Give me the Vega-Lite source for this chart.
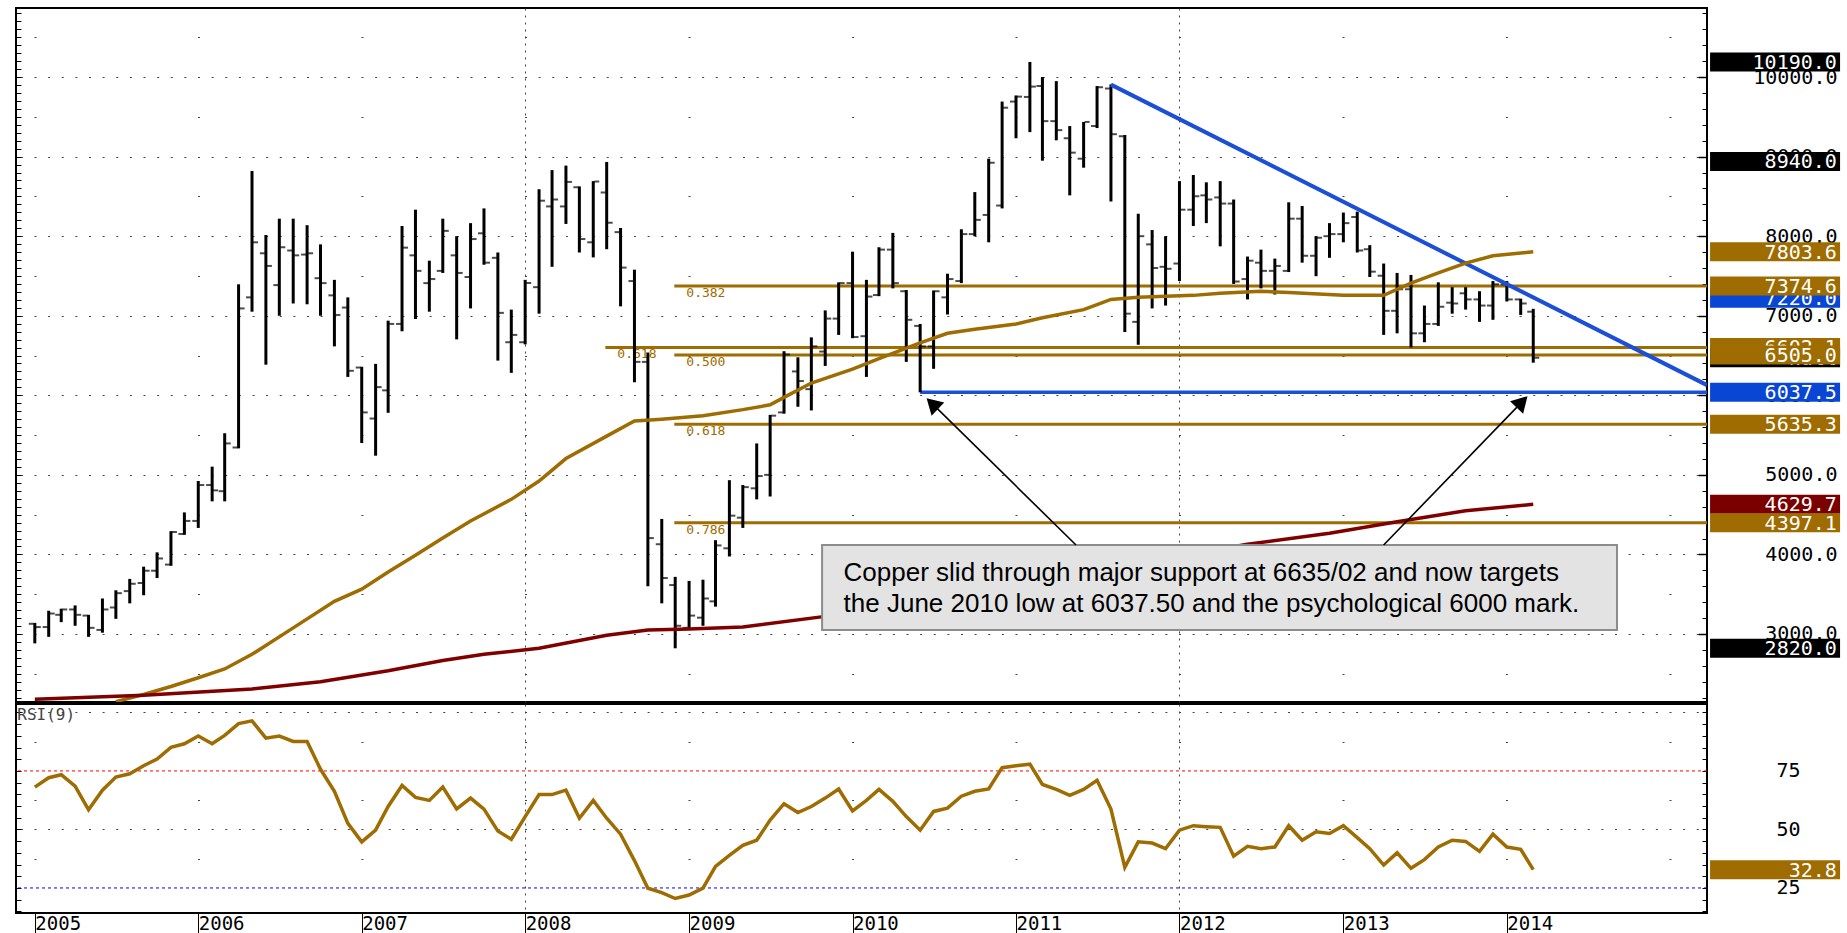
{
"$schema": "https://vega.github.io/schema/vega-lite/v6.json",
"autosize": {"type": "pad"},
"padding": {"left": 14, "top": 7, "right": 5, "bottom": 0},
"background": "white",
"spacing": 0,
"config": {"view": {"stroke": "#000", "strokeWidth": 2}, "axis": {"labelFont": "DejaVu Sans Mono", "labelColor": "#000", "labelOverlap": false, "labelFlush": false}},
"datasets": {
"bars": [
{"date":"2005-01-01","o":3128,"h":3139,"l":2882,"c":3087,"rsi":68.1},
{"date":"2005-02-01","o":3087,"h":3292,"l":2964,"c":3257,"rsi":72.1},
{"date":"2005-03-01","o":3241,"h":3318,"l":3149,"c":3308,"rsi":73.4},
{"date":"2005-04-01","o":3308,"h":3359,"l":3103,"c":3241,"rsi":68.5},
{"date":"2005-05-01","o":3231,"h":3241,"l":2964,"c":3077,"rsi":58.4},
{"date":"2005-06-01","o":3051,"h":3446,"l":3016,"c":3308,"rsi":66.8},
{"date":"2005-07-01","o":3333,"h":3549,"l":3190,"c":3513,"rsi":72.4},
{"date":"2005-08-01","o":3539,"h":3692,"l":3385,"c":3631,"rsi":73.8},
{"date":"2005-09-01","o":3641,"h":3846,"l":3487,"c":3795,"rsi":77.2},
{"date":"2005-10-01","o":3795,"h":4026,"l":3703,"c":3949,"rsi":80.1},
{"date":"2005-11-01","o":3872,"h":4292,"l":3857,"c":4282,"rsi":85.1},
{"date":"2005-12-01","o":4257,"h":4528,"l":4246,"c":4421,"rsi":86.6},
{"date":"2006-01-01","o":4421,"h":4923,"l":4333,"c":4872,"rsi":89.9},
{"date":"2006-02-01","o":4872,"h":5103,"l":4667,"c":4805,"rsi":86.6},
{"date":"2006-03-01","o":4795,"h":5523,"l":4667,"c":5395,"rsi":90.2},
{"date":"2006-04-01","o":5344,"h":7395,"l":5333,"c":7092,"rsi":95.2},
{"date":"2006-05-01","o":7231,"h":8820,"l":7051,"c":7923,"rsi":96.4},
{"date":"2006-06-01","o":7785,"h":8015,"l":6385,"c":7626,"rsi":89.0},
{"date":"2006-07-01","o":7385,"h":8220,"l":7000,"c":7861,"rsi":89.9},
{"date":"2006-08-01","o":7820,"h":8220,"l":7154,"c":7759,"rsi":87.6},
{"date":"2006-09-01","o":7769,"h":8138,"l":7144,"c":7785,"rsi":87.6},
{"date":"2006-10-01","o":7472,"h":7897,"l":7000,"c":7410,"rsi":75.7},
{"date":"2006-11-01","o":7256,"h":7451,"l":6615,"c":7010,"rsi":66.3},
{"date":"2006-12-01","o":7103,"h":7231,"l":6231,"c":6308,"rsi":52.6},
{"date":"2007-01-01","o":6349,"h":6359,"l":5400,"c":5785,"rsi":44.7},
{"date":"2007-02-01","o":5708,"h":6395,"l":5241,"c":6103,"rsi":49.7},
{"date":"2007-03-01","o":6062,"h":6938,"l":5780,"c":6897,"rsi":59.8},
{"date":"2007-04-01","o":6897,"h":8128,"l":6805,"c":7856,"rsi":68.8},
{"date":"2007-05-01","o":7759,"h":8333,"l":6959,"c":7564,"rsi":63.7},
{"date":"2007-06-01","o":7410,"h":7692,"l":7051,"c":7461,"rsi":62.4},
{"date":"2007-07-01","o":7564,"h":8220,"l":7538,"c":8067,"rsi":68.1},
{"date":"2007-08-01","o":7759,"h":8000,"l":6703,"c":7538,"rsi":58.8},
{"date":"2007-09-01","o":7487,"h":8164,"l":7092,"c":7964,"rsi":63.4},
{"date":"2007-10-01","o":8036,"h":8349,"l":7641,"c":7667,"rsi":58.7},
{"date":"2007-11-01","o":7728,"h":7795,"l":6436,"c":7036,"rsi":49.3},
{"date":"2007-12-01","o":6667,"h":7077,"l":6282,"c":6759,"rsi":45.8},
{"date":"2008-01-01","o":6667,"h":7451,"l":6640,"c":7410,"rsi":55.5},
{"date":"2008-02-01","o":7359,"h":8590,"l":7026,"c":8446,"rsi":64.9},
{"date":"2008-03-01","o":8374,"h":8831,"l":7615,"c":8461,"rsi":64.9},
{"date":"2008-04-01","o":8374,"h":8887,"l":8154,"c":8682,"rsi":66.8},
{"date":"2008-05-01","o":8615,"h":8626,"l":7795,"c":7964,"rsi":54.8},
{"date":"2008-06-01","o":7923,"h":8692,"l":7733,"c":8687,"rsi":62.4},
{"date":"2008-07-01","o":8549,"h":8933,"l":7836,"c":8169,"rsi":54.8},
{"date":"2008-08-01","o":8051,"h":8103,"l":7118,"c":7605,"rsi":48.0},
{"date":"2008-09-01","o":7436,"h":7579,"l":6164,"c":6420,"rsi":36.7},
{"date":"2008-10-01","o":6420,"h":6538,"l":3600,"c":4205,"rsi":24.9},
{"date":"2008-11-01","o":4128,"h":4446,"l":3385,"c":3703,"rsi":23.0},
{"date":"2008-12-01","o":3615,"h":3718,"l":2820,"c":3103,"rsi":20.5},
{"date":"2009-01-01","o":3077,"h":3667,"l":3051,"c":3231,"rsi":22.0},
{"date":"2009-02-01","o":3205,"h":3682,"l":3103,"c":3446,"rsi":24.9},
{"date":"2009-03-01","o":3410,"h":4179,"l":3344,"c":4113,"rsi":34.2},
{"date":"2009-04-01","o":4077,"h":4933,"l":3974,"c":4487,"rsi":38.9},
{"date":"2009-05-01","o":4462,"h":4872,"l":4333,"c":4846,"rsi":43.2},
{"date":"2009-06-01","o":4831,"h":5395,"l":4692,"c":4985,"rsi":45.4},
{"date":"2009-07-01","o":5000,"h":5754,"l":4728,"c":5744,"rsi":54.0},
{"date":"2009-08-01","o":5785,"h":6554,"l":5769,"c":6513,"rsi":61.0},
{"date":"2009-09-01","o":6300,"h":6477,"l":5856,"c":6179,"rsi":57.2},
{"date":"2009-10-01","o":6077,"h":6728,"l":5810,"c":6615,"rsi":59.8},
{"date":"2009-11-01","o":6550,"h":7067,"l":6369,"c":6964,"rsi":63.4},
{"date":"2009-12-01","o":6964,"h":7420,"l":6759,"c":7410,"rsi":67.3},
{"date":"2010-01-01","o":7410,"h":7805,"l":6718,"c":6733,"rsi":57.9},
{"date":"2010-02-01","o":6743,"h":7451,"l":6231,"c":7241,"rsi":62.4},
{"date":"2010-03-01","o":7260,"h":7861,"l":7246,"c":7831,"rsi":67.1},
{"date":"2010-04-01","o":7831,"h":8041,"l":7344,"c":7410,"rsi":62.0},
{"date":"2010-05-01","o":7308,"h":7323,"l":6420,"c":6949,"rsi":55.5},
{"date":"2010-06-01","o":6872,"h":6897,"l":6037.5,"c":6615,"rsi":49.7},
{"date":"2010-07-01","o":6615,"h":7318,"l":6333,"c":7308,"rsi":57.7},
{"date":"2010-08-01","o":7231,"h":7528,"l":7015,"c":7461,"rsi":59.1},
{"date":"2010-09-01","o":7436,"h":8087,"l":7410,"c":8026,"rsi":64.2},
{"date":"2010-10-01","o":8026,"h":8554,"l":8000,"c":8205,"rsi":66.3},
{"date":"2010-11-01","o":8267,"h":8974,"l":7923,"c":8923,"rsi":67.3},
{"date":"2010-12-01","o":8385,"h":9692,"l":8349,"c":9615,"rsi":76.4},
{"date":"2011-01-01","o":9692,"h":9769,"l":9231,"c":9754,"rsi":77.2},
{"date":"2011-02-01","o":9750,"h":10190,"l":9308,"c":9880,"rsi":77.9},
{"date":"2011-03-01","o":9887,"h":10000,"l":8949,"c":9446,"rsi":69.2},
{"date":"2011-04-01","o":9446,"h":9949,"l":9205,"c":9333,"rsi":67.1},
{"date":"2011-05-01","o":9231,"h":9384,"l":8513,"c":9050,"rsi":64.6},
{"date":"2011-06-01","o":8974,"h":9436,"l":8861,"c":9436,"rsi":67.1},
{"date":"2011-07-01","o":9385,"h":9887,"l":9359,"c":9872,"rsi":71.0},
{"date":"2011-08-01","o":9856,"h":9908,"l":8436,"c":9282,"rsi":58.7},
{"date":"2011-09-01","o":9256,"h":9272,"l":6795,"c":7026,"rsi":33.8},
{"date":"2011-10-01","o":6923,"h":8282,"l":6635,"c":8000,"rsi":44.7},
{"date":"2011-11-01","o":7897,"h":8077,"l":7092,"c":7600,"rsi":44.2},
{"date":"2011-12-01","o":7615,"h":8000,"l":7128,"c":7590,"rsi":41.8},
{"date":"2012-01-01","o":7656,"h":8692,"l":7436,"c":8333,"rsi":49.7},
{"date":"2012-02-01","o":8333,"h":8769,"l":8128,"c":8502,"rsi":51.6},
{"date":"2012-03-01","o":8513,"h":8677,"l":8164,"c":8461,"rsi":51.2},
{"date":"2012-04-01","o":8487,"h":8692,"l":7872,"c":8410,"rsi":50.9},
{"date":"2012-05-01","o":8410,"h":8461,"l":7400,"c":7430,"rsi":38.6},
{"date":"2012-06-01","o":7461,"h":7744,"l":7205,"c":7692,"rsi":42.8},
{"date":"2012-07-01","o":7667,"h":7831,"l":7344,"c":7564,"rsi":41.8},
{"date":"2012-08-01","o":7564,"h":7718,"l":7267,"c":7626,"rsi":42.5},
{"date":"2012-09-01","o":7564,"h":8426,"l":7549,"c":8220,"rsi":51.6},
{"date":"2012-10-01","o":8220,"h":8379,"l":7667,"c":7754,"rsi":45.4},
{"date":"2012-11-01","o":7754,"h":8000,"l":7497,"c":7980,"rsi":49.0},
{"date":"2012-12-01","o":8000,"h":8164,"l":7728,"c":8026,"rsi":48.3},
{"date":"2013-01-01","o":8026,"h":8297,"l":7923,"c":8164,"rsi":51.6},
{"date":"2013-02-01","o":8241,"h":8308,"l":7795,"c":7820,"rsi":46.5},
{"date":"2013-03-01","o":7836,"h":7887,"l":7487,"c":7554,"rsi":41.8},
{"date":"2013-04-01","o":7503,"h":7656,"l":6759,"c":7062,"rsi":34.8},
{"date":"2013-05-01","o":7062,"h":7538,"l":6779,"c":7333,"rsi":40.0},
{"date":"2013-06-01","o":7333,"h":7513,"l":6602.1,"c":6779,"rsi":33.4},
{"date":"2013-07-01","o":6779,"h":7128,"l":6667,"c":6897,"rsi":37.1},
{"date":"2013-08-01","o":6897,"h":7420,"l":6872,"c":7113,"rsi":42.5},
{"date":"2013-09-01","o":7164,"h":7359,"l":7026,"c":7154,"rsi":45.4},
{"date":"2013-10-01","o":7282,"h":7359,"l":7077,"c":7205,"rsi":44.9},
{"date":"2013-11-01","o":7205,"h":7308,"l":6923,"c":7128,"rsi":40.6},
{"date":"2013-12-01","o":7128,"h":7436,"l":6949,"c":7395,"rsi":48.0},
{"date":"2014-01-01","o":7395,"h":7436,"l":7179,"c":7205,"rsi":42.5},
{"date":"2014-02-01","o":7205,"h":7215,"l":7010,"c":7154,"rsi":41.5},
{"date":"2014-03-01","o":7051,"h":7087,"l":6410,"c":6472,"rsi":32.8}
],
"ma1": [
{"date":"2005-07-01","v":2150},{"date":"2005-09-01","v":2240},{"date":"2005-11-01","v":2340},{"date":"2006-01-01","v":2450},{"date":"2006-03-01","v":2560},{"date":"2006-05-01","v":2744},{"date":"2006-08-01","v":3077},{"date":"2006-11-01","v":3410},{"date":"2007-01-01","v":3564},{"date":"2007-03-01","v":3780},{"date":"2007-05-01","v":3990},{"date":"2007-07-01","v":4205},{"date":"2007-09-01","v":4420},{"date":"2007-12-01","v":4692},{"date":"2008-02-01","v":4923},{"date":"2008-04-01","v":5205},{"date":"2008-07-01","v":5487},{"date":"2008-09-01","v":5677},{"date":"2008-11-01","v":5700},{"date":"2009-02-01","v":5744},{"date":"2009-05-01","v":5820},{"date":"2009-07-01","v":5880},{"date":"2009-08-01","v":5974},{"date":"2009-10-01","v":6154},{"date":"2010-01-01","v":6330},{"date":"2010-03-01","v":6461},{"date":"2010-06-01","v":6660},{"date":"2010-08-01","v":6779},{"date":"2010-10-01","v":6831},{"date":"2011-01-01","v":6897},{"date":"2011-03-01","v":6974},{"date":"2011-06-01","v":7077},{"date":"2011-07-01","v":7140},{"date":"2011-08-01","v":7205},{"date":"2011-10-01","v":7231},{"date":"2012-02-01","v":7256},{"date":"2012-04-01","v":7282},{"date":"2012-07-01","v":7308},{"date":"2012-09-01","v":7292},{"date":"2013-01-01","v":7256},{"date":"2013-04-01","v":7256},{"date":"2013-06-01","v":7410},{"date":"2013-08-01","v":7538},{"date":"2013-10-01","v":7661},{"date":"2013-12-01","v":7754},{"date":"2014-03-01","v":7803.6}
],
"ma2": [
{"date":"2005-01-01","v":2180},{"date":"2005-09-01","v":2231},{"date":"2006-05-01","v":2308},{"date":"2006-10-01","v":2400},{"date":"2007-03-01","v":2539},{"date":"2007-07-01","v":2667},{"date":"2007-10-01","v":2744},{"date":"2008-02-01","v":2821},{"date":"2008-07-01","v":2985},{"date":"2008-10-01","v":3051},{"date":"2009-01-01","v":3061},{"date":"2009-05-01","v":3087},{"date":"2009-11-01","v":3221},{"date":"2012-06-01","v":4128},{"date":"2012-12-01","v":4267},{"date":"2013-05-01","v":4410},{"date":"2013-10-01","v":4549},{"date":"2014-03-01","v":4629.7}
],
"fibs": [
{"level":7374.6,"start":"2008-11-29","ratio":"0.382"},
{"level":6602.1,"start":"2008-06-28","ratio":"0.618"},
{"level":6505.0,"start":"2008-11-29","ratio":"0.500"},
{"level":5635.3,"start":"2008-11-29","ratio":"0.618"},
{"level":4397.1,"start":"2008-11-29","ratio":"0.786"}
],
"support": [{"start":"2010-06-01","level":6037.5}],
"trend": [{"date":"2011-08-01","v":9905},{"date":"2015-03-24","v":6128}],
"arrows": [
{"from":"2011-05-15","fromV":4118,"to":"2010-06-28","toV":5895},
{"from":"2013-04-01","fromV":4118,"to":"2014-02-04","toV":5918}
],
"tags": [
{"value":10190,"label":"10190.0","kind":"extreme"},
{"value":8940,"label":"8940.0","kind":"extreme"},
{"value":7803.6,"label":"7803.6","kind":"ma1"},
{"value":7220,"label":"7220.0","kind":"trend"},
{"value":6602.1,"label":"6602.1","kind":"fib"},
{"value":6472,"label":null,"kind":"extreme"},
{"value":6037.5,"label":"6037.5","kind":"trend"},
{"value":5635.3,"label":"5635.3","kind":"fib"},
{"value":4629.7,"label":"4629.7","kind":"ma2"},
{"value":2820,"label":"2820.0","kind":"extreme"},
{"value":7374.6,"label":"7374.6","kind":"fib"},
{"value":6505,"label":"6505.0","kind":"fib"},
{"value":4397.1,"label":"4397.1","kind":"fib"}
],
"rsitag": [{"value":32.8,"label":"32.8","kind":"ma1"}]
},
"vconcat": [
{
"width": 1691, "height": 694,
"resolve": {"axis": {"x": "independent", "y": "independent"}},
"layer": [
{"data": {"name": "fibs"}, "mark": {"type": "rule", "color": "#9e6c00", "strokeWidth": 3},
 "encoding": {
  "x": {"field": "start", "type": "temporal", "scale": {"type": "utc", "domain": [{"year":2004,"month":11,"date":20,"utc":true},{"year":2015,"month":3,"date":24,"utc":true}]}, "axis": null},
  "x2": {"datum": {"year":2015,"month":3,"date":24,"utc":true}},
  "y": {"field": "level", "type": "quantitative", "scale": {"domain": [2145, 10868], "nice": false, "zero": false}, "axis": null}}},
{"data": {"name": "fibs"}, "mark": {"type": "text", "color": "#9e6c00", "font": "DejaVu Sans Mono", "fontSize": 13, "align": "left", "baseline": "top", "dx": 12, "dy": 1},
 "encoding": {
  "x": {"field": "start", "type": "temporal", "scale": {"type": "utc", "domain": [{"year":2004,"month":11,"date":20,"utc":true},{"year":2015,"month":3,"date":24,"utc":true}]}, "axis": null},
  "y": {"field": "level", "type": "quantitative", "scale": {"domain": [2145, 10868], "nice": false, "zero": false}, "axis": null},
  "text": {"field": "ratio"}}},
{"data": {"name": "support"}, "mark": {"type": "rule", "color": "#1a4fd6", "strokeWidth": 3.5},
 "encoding": {
  "x": {"field": "start", "type": "temporal", "scale": {"type": "utc", "domain": [{"year":2004,"month":11,"date":20,"utc":true},{"year":2015,"month":3,"date":24,"utc":true}]}, "axis": null},
  "x2": {"datum": {"year":2015,"month":3,"date":24,"utc":true}},
  "y": {"field": "level", "type": "quantitative", "scale": {"domain": [2145, 10868], "nice": false, "zero": false}, "axis": null}}},
{"data": {"name": "bars"}, "mark": {"type": "rule", "color": "#000", "strokeWidth": 3},
 "encoding": {
  "x": {"field": "date", "type": "temporal", "scale": {"type": "utc", "domain": [{"year":2004,"month":11,"date":20,"utc":true},{"year":2015,"month":3,"date":24,"utc":true}]},
        "axis": {"orient": "bottom", "title": null, "values": [{"year":2008,"utc":true},{"year":2012,"utc":true}], "grid": true, "gridDash": [2, 5], "gridColor": "#444", "gridOpacity": 1, "gridWidth": 1, "labels": false, "ticks": false, "domain": false}},
  "y": {"field": "h", "type": "quantitative", "scale": {"domain": [2145, 10868], "nice": false, "zero": false},
        "axis": {"orient": "left", "title": null, "values": [3000,4000,5000,6000,7000,8000,9000,10000], "grid": true, "gridDash": [2, 11.625], "gridDashOffset": 9.25, "gridColor": "#444", "gridOpacity": 1, "gridWidth": 1.2, "labels": false, "ticks": false, "domain": false}},
  "y2": {"field": "l"}}},
{"data": {"name": "bars"}, "mark": {"type": "tick", "orient": "horizontal", "color": "#000", "size": 5, "thickness": 2, "xOffset": -3.5},
 "encoding": {
  "x": {"field": "date", "type": "temporal", "scale": {"type": "utc", "domain": [{"year":2004,"month":11,"date":20,"utc":true},{"year":2015,"month":3,"date":24,"utc":true}]}, "axis": null},
  "y": {"field": "o", "type": "quantitative", "scale": {"domain": [2145, 10868], "nice": false, "zero": false},
        "axis": {"orient": "left", "title": null, "values": [2500,3500,4500,5500,6500,7500,8500,9500,10500], "grid": true, "gridDash": [2, 161.5], "gridDashOffset": 145.5, "gridColor": "#444", "gridOpacity": 1, "gridWidth": 1.2, "labels": false, "ticks": false, "domain": false}}}},
{"data": {"name": "bars"}, "mark": {"type": "tick", "orient": "horizontal", "color": "#000", "size": 5, "thickness": 2, "xOffset": 3.5},
 "encoding": {
  "x": {"field": "date", "type": "temporal", "scale": {"type": "utc", "domain": [{"year":2004,"month":11,"date":20,"utc":true},{"year":2015,"month":3,"date":24,"utc":true}]}, "axis": null},
  "y": {"field": "c", "type": "quantitative", "scale": {"domain": [2145, 10868], "nice": false, "zero": false},
        "axis": {"orient": "right", "title": null, "values": [3000,4000,5000,6000,7000,8000,9000,10000], "format": ".1f", "labelAlign": "right", "labelBaseline": "middle", "labelPadding": 130, "labelFontSize": 20, "tickSize": 0, "ticks": false, "domain": false, "grid": false}}}},
{"data": {"name": "trend"}, "mark": {"type": "line", "color": "#1a4fd6", "strokeWidth": 4, "clip": true},
 "encoding": {
  "x": {"field": "date", "type": "temporal", "scale": {"type": "utc", "domain": [{"year":2004,"month":11,"date":20,"utc":true},{"year":2015,"month":3,"date":24,"utc":true}]}, "axis": null},
  "y": {"field": "v", "type": "quantitative", "scale": {"domain": [2145, 10868], "nice": false, "zero": false}, "axis": null}}},
{"data": {"name": "ma1"}, "mark": {"type": "line", "color": "#9e6c00", "strokeWidth": 3.5, "clip": true},
 "encoding": {
  "x": {"field": "date", "type": "temporal", "scale": {"type": "utc", "domain": [{"year":2004,"month":11,"date":20,"utc":true},{"year":2015,"month":3,"date":24,"utc":true}]}, "axis": null},
  "y": {"field": "v", "type": "quantitative", "scale": {"domain": [2145, 10868], "nice": false, "zero": false},
        "axis": {"orient": "right", "title": null, "offset": -5, "values": [2200,2400,2600,2800,3200,3400,3600,3800,4200,4400,4600,4800,5200,5400,5600,5800,6200,6400,6600,6800,7200,7400,7600,7800,8200,8400,8600,8800,9200,9400,9600,9800,10200,10400,10600,10800], "ticks": true, "tickSize": 5, "tickColor": "#000", "tickWidth": 1, "labels": false, "domain": false, "grid": false}}}},
{"data": {"name": "ma2"}, "mark": {"type": "line", "color": "#800000", "strokeWidth": 3.5, "clip": true},
 "encoding": {
  "x": {"field": "date", "type": "temporal", "scale": {"type": "utc", "domain": [{"year":2004,"month":11,"date":20,"utc":true},{"year":2015,"month":3,"date":24,"utc":true}]}, "axis": null},
  "y": {"field": "v", "type": "quantitative", "scale": {"domain": [2145, 10868], "nice": false, "zero": false},
        "axis": {"orient": "right", "title": null, "offset": -9, "values": [3000,4000,5000,6000,7000,8000,9000,10000], "ticks": true, "tickSize": 9, "tickColor": "#000", "tickWidth": 1.5, "labels": false, "domain": false, "grid": false}}}},
{"data": {"values": [{}]}, "mark": {"type": "rect", "fill": "#e3e3e3", "stroke": "#8c8c8c", "strokeWidth": 2},
 "encoding": {
  "x": {"datum": {"year":2009,"month":10,"date":25,"utc":true}, "type": "temporal", "scale": {"type": "utc", "domain": [{"year":2004,"month":11,"date":20,"utc":true},{"year":2015,"month":3,"date":24,"utc":true}]}, "axis": null},
  "x2": {"datum": {"year":2014,"month":9,"date":4,"utc":true}},
  "y": {"datum": 4118, "type": "quantitative", "scale": {"domain": [2145, 10868], "nice": false, "zero": false},
        "axis": {"orient": "left", "title": null, "offset": -5, "values": [2200,2300,2400,2500,2600,2700,2800,2900,3000,3100,3200,3300,3400,3500,3600,3700,3800,3900,4000,4100,4200,4300,4400,4500,4600,4700,4800,4900,5000,5100,5200,5300,5400,5500,5600,5700,5800,5900,6000,6100,6200,6300,6400,6500,6600,6700,6800,6900,7000,7100,7200,7300,7400,7500,7600,7700,7800,7900,8000,8100,8200,8300,8400,8500,8600,8700,8800,8900,9000,9100,9200,9300,9400,9500,9600,9700,9800,9900,10000,10100,10200,10300,10400,10500,10600,10700,10800], "ticks": true, "tickSize": 5, "tickColor": "#000", "tickWidth": 1, "labels": false, "domain": false, "grid": false}},
  "y2": {"datum": 3050}}},
{"data": {"values": [{}]}, "mark": {"type": "text", "text": ["Copper slid through major support at 6635/02 and now targets", "the June 2010 low at 6037.50 and the psychological 6000 mark."], "font": "Liberation Sans", "fontSize": 26, "lineHeight": 31.5, "align": "left", "baseline": "alphabetic", "color": "#000"},
 "encoding": {
  "x": {"datum": {"year":2009,"month":12,"date":12,"utc":true}, "type": "temporal", "scale": {"type": "utc", "domain": [{"year":2004,"month":11,"date":20,"utc":true},{"year":2015,"month":3,"date":24,"utc":true}]}, "axis": null},
  "y": {"datum": 3666, "type": "quantitative", "scale": {"domain": [2145, 10868], "nice": false, "zero": false}, "axis": null}}},
{"data": {"name": "arrows"}, "mark": {"type": "rule", "color": "#000", "strokeWidth": 1.6},
 "encoding": {
  "x": {"field": "from", "type": "temporal", "scale": {"type": "utc", "domain": [{"year":2004,"month":11,"date":20,"utc":true},{"year":2015,"month":3,"date":24,"utc":true}]}, "axis": null},
  "x2": {"field": "to"},
  "y": {"field": "fromV", "type": "quantitative", "scale": {"domain": [2145, 10868], "nice": false, "zero": false}, "axis": null},
  "y2": {"field": "toV"}}},
{"data": {"values": [{}]}, "mark": {"type": "point", "shape": "triangle-up", "filled": true, "color": "#000", "opacity": 1, "size": 330, "angle": 314},
 "encoding": {
  "x": {"datum": {"year":2010,"month":6,"date":28,"utc":true}, "type": "temporal", "scale": {"type": "utc", "domain": [{"year":2004,"month":11,"date":20,"utc":true},{"year":2015,"month":3,"date":24,"utc":true}]}, "axis": null},
  "y": {"datum": 5895, "type": "quantitative", "scale": {"domain": [2145, 10868], "nice": false, "zero": false}, "axis": null}}},
{"data": {"values": [{}]}, "mark": {"type": "point", "shape": "triangle-up", "filled": true, "color": "#000", "opacity": 1, "size": 330, "angle": 44},
 "encoding": {
  "x": {"datum": {"year":2014,"month":2,"date":4,"utc":true}, "type": "temporal", "scale": {"type": "utc", "domain": [{"year":2004,"month":11,"date":20,"utc":true},{"year":2015,"month":3,"date":24,"utc":true}]}, "axis": null},
  "y": {"datum": 5918, "type": "quantitative", "scale": {"domain": [2145, 10868], "nice": false, "zero": false}, "axis": null}}},
{"data": {"name": "tags"}, "transform": [{"filter": {"not": {"field": "value", "oneOf": [7374.6, 6505, 4397.1]}}}],
 "mark": {"type": "tick", "orient": "horizontal", "size": 130, "thickness": 19, "opacity": 1},
 "encoding": {
  "x": {"datum": {"year":2015,"month":8,"date":23,"utc":true}, "type": "temporal", "scale": {"type": "utc", "domain": [{"year":2004,"month":11,"date":20,"utc":true},{"year":2015,"month":3,"date":24,"utc":true}]}, "axis": null},
  "y": {"field": "value", "type": "quantitative", "scale": {"domain": [2145, 10868], "nice": false, "zero": false}, "axis": null},
  "color": {"field": "kind", "type": "nominal", "scale": {"domain": ["extreme","fib","ma1","trend","ma2"], "range": ["#000000","#9e6c00","#9e6c00","#0a46d4","#7a0000"]}, "legend": null}}},
{"data": {"name": "tags"}, "transform": [{"filter": {"not": {"field": "value", "oneOf": [7374.6, 6505, 4397.1]}}}],
 "mark": {"type": "text", "color": "#fff", "font": "DejaVu Sans Mono", "fontSize": 20, "align": "right", "baseline": "middle", "dy": 1},
 "encoding": {
  "x": {"datum": {"year":2016,"month":1,"date":8,"utc":true}, "type": "temporal", "scale": {"type": "utc", "domain": [{"year":2004,"month":11,"date":20,"utc":true},{"year":2015,"month":3,"date":24,"utc":true}]}, "axis": null},
  "y": {"field": "value", "type": "quantitative", "scale": {"domain": [2145, 10868], "nice": false, "zero": false}, "axis": null},
  "text": {"field": "label"}}},
{"data": {"name": "tags"}, "transform": [{"filter": {"field": "value", "oneOf": [7374.6, 6505, 4397.1]}}],
 "mark": {"type": "tick", "orient": "horizontal", "size": 130, "thickness": 19, "opacity": 1},
 "encoding": {
  "x": {"datum": {"year":2015,"month":8,"date":23,"utc":true}, "type": "temporal", "scale": {"type": "utc", "domain": [{"year":2004,"month":11,"date":20,"utc":true},{"year":2015,"month":3,"date":24,"utc":true}]}, "axis": null},
  "y": {"field": "value", "type": "quantitative", "scale": {"domain": [2145, 10868], "nice": false, "zero": false}, "axis": null},
  "color": {"field": "kind", "type": "nominal", "scale": {"domain": ["extreme","fib","ma1","trend","ma2"], "range": ["#000000","#9e6c00","#9e6c00","#0a46d4","#7a0000"]}, "legend": null}}},
{"data": {"name": "tags"}, "transform": [{"filter": {"field": "value", "oneOf": [7374.6, 6505, 4397.1]}}],
 "mark": {"type": "text", "color": "#fff", "font": "DejaVu Sans Mono", "fontSize": 20, "align": "right", "baseline": "middle", "dy": 1},
 "encoding": {
  "x": {"datum": {"year":2016,"month":1,"date":8,"utc":true}, "type": "temporal", "scale": {"type": "utc", "domain": [{"year":2004,"month":11,"date":20,"utc":true},{"year":2015,"month":3,"date":24,"utc":true}]}, "axis": null},
  "y": {"field": "value", "type": "quantitative", "scale": {"domain": [2145, 10868], "nice": false, "zero": false}, "axis": null},
  "text": {"field": "label"}}}
]
},
{
"width": 1691, "height": 209,
"resolve": {"axis": {"x": "independent", "y": "independent"}},
"layer": [
{"data": {"values": [{}]}, "mark": {"type": "rule", "color": "#ff0000", "strokeWidth": 1, "strokeDash": [3, 3]},
 "encoding": {
  "y": {"datum": 75, "type": "quantitative", "scale": {"domain": [14.3, 103.6], "nice": false, "zero": false},
        "axis": {"orient": "left", "title": null, "values": [37.5, 62.5, 87.5], "grid": true, "gridDash": [2, 161.5], "gridDashOffset": 145.5, "gridColor": "#444", "gridOpacity": 1, "gridWidth": 1.2, "labels": false, "ticks": false, "domain": false}}}},
{"data": {"values": [{}]}, "mark": {"type": "rule", "color": "#0000ff", "strokeWidth": 1, "strokeDash": [3, 3]},
 "encoding": {
  "y": {"datum": 25, "type": "quantitative", "scale": {"domain": [14.3, 103.6], "nice": false, "zero": false},
        "axis": {"orient": "right", "title": null, "values": [25, 50, 75], "format": "d", "labelAlign": "right", "labelBaseline": "middle", "labelPadding": 93, "labelFontSize": 20, "tickSize": 0, "ticks": false, "domain": false, "grid": false}}}},
{"data": {"name": "bars"}, "mark": {"type": "line", "color": "#9e6c00", "strokeWidth": 3.5},
 "encoding": {
  "x": {"field": "date", "type": "temporal", "scale": {"type": "utc", "domain": [{"year":2004,"month":11,"date":20,"utc":true},{"year":2015,"month":3,"date":24,"utc":true}]},
        "axis": {"orient": "bottom", "title": null, "values": [{"year":2005,"utc":true},{"year":2006,"utc":true},{"year":2007,"utc":true},{"year":2008,"utc":true},{"year":2009,"utc":true},{"year":2010,"utc":true},{"year":2011,"utc":true},{"year":2012,"utc":true},{"year":2013,"utc":true},{"year":2014,"utc":true}], "format": "%Y", "labelAlign": "left", "labelBaseline": "top", "labelPadding": -21, "labelDx": 3, "labelFontSize": 19, "ticks": true, "tickSize": 22, "tickColor": "#000", "tickWidth": 1, "domain": false, "grid": false}},
  "y": {"field": "rsi", "type": "quantitative", "scale": {"domain": [14.3, 103.6], "nice": false, "zero": false},
        "axis": {"orient": "left", "title": null, "values": [50, 100], "grid": true, "gridDash": [2, 11.625], "gridDashOffset": 9.25, "gridColor": "#444", "gridOpacity": 1, "gridWidth": 1.2, "labels": false, "ticks": false, "domain": false}}}},
{"data": {"name": "rsitag"}, "mark": {"type": "tick", "orient": "horizontal", "size": 130, "thickness": 19, "opacity": 1, "color": "#9e6c00"},
 "encoding": {
  "x": {"datum": {"year":2015,"month":8,"date":23,"utc":true}, "type": "temporal", "scale": {"type": "utc", "domain": [{"year":2004,"month":11,"date":20,"utc":true},{"year":2015,"month":3,"date":24,"utc":true}]},
        "axis": {"orient": "bottom", "title": null, "values": [{"year":2008,"utc":true},{"year":2012,"utc":true}], "grid": true, "gridDash": [2, 5], "gridColor": "#444", "gridOpacity": 1, "gridWidth": 1, "labels": false, "ticks": false, "domain": false}},
  "y": {"field": "value", "type": "quantitative", "scale": {"domain": [14.3, 103.6], "nice": false, "zero": false},
        "axis": {"orient": "right", "title": null, "offset": -5, "values": [15,20,25,30,35,40,45,50,55,60,65,70,75,80,85,90,95,100], "ticks": true, "tickSize": 5, "tickColor": "#000", "tickWidth": 1, "labels": false, "domain": false, "grid": false}}}},
{"data": {"name": "rsitag"}, "mark": {"type": "text", "color": "#fff", "font": "DejaVu Sans Mono", "fontSize": 20, "align": "right", "baseline": "middle", "dy": 1},
 "encoding": {
  "x": {"datum": {"year":2016,"month":1,"date":8,"utc":true}, "type": "temporal", "scale": {"type": "utc", "domain": [{"year":2004,"month":11,"date":20,"utc":true},{"year":2015,"month":3,"date":24,"utc":true}]}, "axis": null},
  "y": {"field": "value", "type": "quantitative", "scale": {"domain": [14.3, 103.6], "nice": false, "zero": false},
        "axis": {"orient": "left", "title": null, "offset": -5, "values": [15,20,25,30,35,40,45,50,55,60,65,70,75,80,85,90,95,100], "ticks": true, "tickSize": 5, "tickColor": "#000", "tickWidth": 1, "labels": false, "domain": false, "grid": false}},
  "text": {"field": "label"}}},
{"data": {"values": [{}]}, "mark": {"type": "text", "text": "RSI(9)", "color": "#444", "font": "DejaVu Sans Mono", "fontSize": 16, "align": "left", "baseline": "top"},
 "encoding": {
  "x": {"datum": {"year":2004,"month":11,"date":23,"utc":true}, "type": "temporal", "scale": {"type": "utc", "domain": [{"year":2004,"month":11,"date":20,"utc":true},{"year":2015,"month":3,"date":24,"utc":true}]}, "axis": null},
  "y": {"datum": 102.5, "type": "quantitative", "scale": {"domain": [14.3, 103.6], "nice": false, "zero": false}, "axis": null}}}
]
}
]
}
